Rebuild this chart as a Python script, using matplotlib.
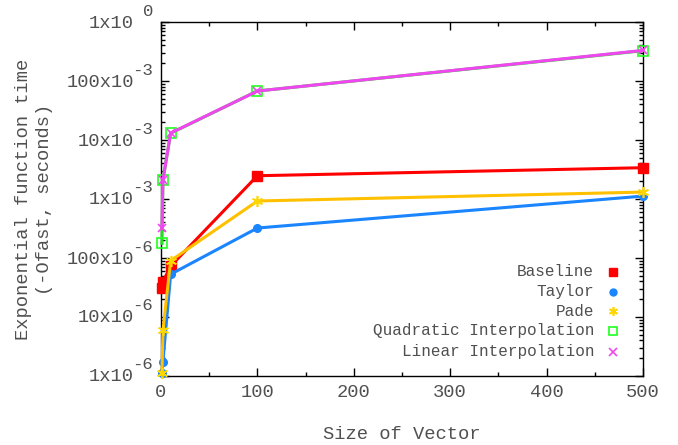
import matplotlib
matplotlib.use("Agg")
import matplotlib.pyplot as plt
from matplotlib.ticker import FixedLocator, NullFormatter, LogLocator
import matplotlib.transforms as mtrans
import numpy as np

sizes = [1, 2, 10, 100, 500]
baseline = [3.1e-5, 3.96e-5, 7.3e-5, 2.48e-3, 3.39e-3]
taylor = [1.11e-6, 1.75e-6, 5.3e-5, 3.22e-4, 1.12e-3]
pade = [1.11e-6, 6.0e-6, 9.0e-5, 9.25e-4, 1.31e-3]
quadratic = [1.77e-4, 2.1e-3, 1.30e-2, 6.76e-2, 0.326]
linear = [3.18e-4, 2.1e-3, 1.31e-2, 6.76e-2, 0.33]

labels = ["Baseline", "Taylor", "Pade", "Quadratic Interpolation", "Linear Interpolation"]
ytick_vals = [1e-6, 1e-5, 1e-4, 1e-3, 1e-2, 1e-1, 1e0]
ytick_main = ["1x10", "10x10", "100x10", "1x10", "10x10", "100x10", "1x10"]
ytick_exp = ["-6", "-6", "-6", "-3", "-3", "-3", "0"]
xticks = [0, 100, 200, 300, 400, 500]

FONT = "Liberation Mono"
TXT = "#505050"
plt.rcParams["font.family"] = [FONT, "DejaVu Sans"]

fig = plt.figure(figsize=(6.78, 4.45), dpi=100)
ax = fig.add_axes([161/678, 1-376/445, (643-161)/678, (376-22)/445])
ax.set_yscale("log")
ax.set_xlim(0, 500)
ax.set_ylim(1e-6, 1e0)

series = [
    (baseline, dict(color="#ff0000", marker="s", ms=7, mfc="#ff0000", mec="#ff0000")),
    (taylor, dict(color="#1a85ff", marker="o", ms=5.5, mfc="#1a85ff", mec="#1a85ff")),
    (pade, dict(color="#ffc000", marker=(6, 2, 0), ms=8, mec="#ffd700", mew=1.2)),
    (quadratic, dict(color="#20e020", marker="s", ms=7, mfc="none", mec="#20ff20", mew=1.2)),
    (linear, dict(color="#f046f0", marker="x", ms=6, mec="#f046f0", mew=1.2)),
]
for vals, st in series:
    ax.plot(sizes, vals, lw=2.2, clip_on=False, zorder=3, **st)

# ticks
ax.tick_params(which="both", direction="in", top=True, right=True, colors="black",
               labelcolor=TXT)
ax.tick_params(which="major", length=6, width=1)
ax.tick_params(which="minor", length=3, width=1)
ax.set_xticks(xticks)
ax.set_xticklabels([str(v) for v in xticks], fontsize=13.5, color=TXT)
ax.xaxis.set_minor_locator(FixedLocator([50, 150, 250, 350, 450]))
ax.set_yticks(ytick_vals)
ax.set_yticklabels([""] * len(ytick_vals))
ax.yaxis.set_minor_locator(LogLocator(base=10, subs=np.arange(2, 10)))
ax.yaxis.set_minor_formatter(NullFormatter())
ax.tick_params(axis="x", pad=6)
for sp in ax.spines.values():
    sp.set_linewidth(1)

# y tick labels with superscript exponents
for v, m, e in zip(ytick_vals, ytick_main, ytick_exp):
    tr = mtrans.offset_copy(ax.get_yaxis_transform(), fig=fig, x=-27, y=-1, units="dots")
    ax.text(0, v, m, transform=tr, ha="right", va="center", fontsize=13.5, color=TXT)
    tr2 = mtrans.offset_copy(ax.get_yaxis_transform(), fig=fig, x=-8, y=11, units="dots")
    ax.text(0, v, e, transform=tr2, ha="right", va="center", fontsize=12.5, color=TXT)

ax.set_xlabel("Size of Vector", fontsize=13.5, color=TXT, labelpad=18)
fig.text(34/678, 1-199/445, "Exponential function time\n(-Ofast, seconds)",
         rotation=90, ha="center", va="center", fontsize=13.5, color=TXT,
         multialignment="center", linespacing=1.25)

# legend (manual)
leg_rows = [271.5, 291.5, 311, 330.5, 351.5]
leg_ms = [5.2, 5.0, 6.5, 5.8, 5.2]
for (vals, st), lab, yp, lms in zip(series, labels, leg_rows, leg_ms):
    yf = 1 - yp / 445
    fig.text(594/678, yf, lab, ha="right", va="center", fontsize=11.5, color=TXT)
    kw = {k: v for k, v in st.items() if k not in ("color", "ms")}
    fig.add_artist(plt.Line2D([613/678], [yf], transform=fig.transFigure, ls="none",
                              color=st["color"], ms=lms, **kw))

fig.savefig("out.png", dpi=100)
